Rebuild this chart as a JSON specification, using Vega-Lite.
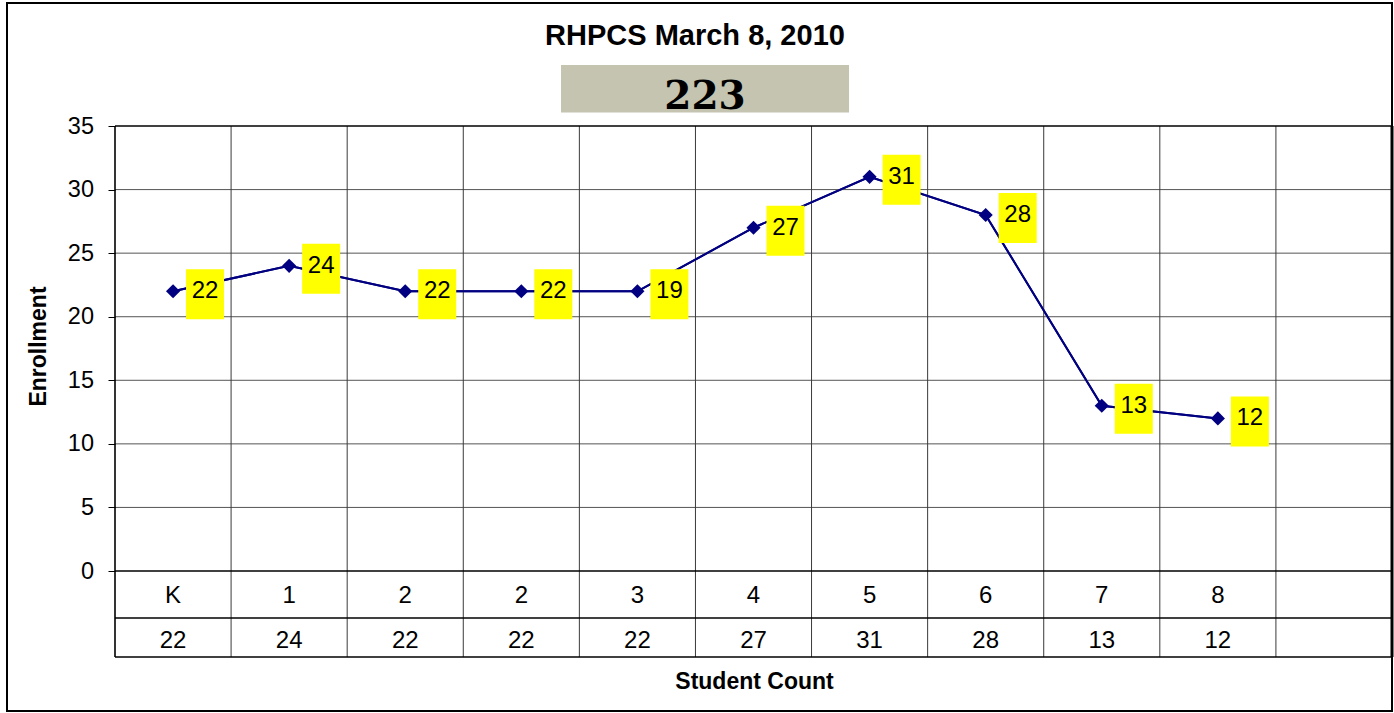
{
  "$schema": "https://vega.github.io/schema/vega-lite/v6.json",
  "width": 1385,
  "height": 708,
  "autosize": {"type": "none"},
  "padding": {"left": 7, "top": 3, "right": 2, "bottom": 2},
  "background": "#ffffff",
  "config": {
    "view": {"stroke": "#000000", "strokeWidth": 2},
    "font": "Liberation Sans",
    "text": {"font": "Liberation Sans"}
  },
  "datasets": {
    "grades": [
      {"col": 0, "grade": "K", "enrollment": 22, "label": "22", "count": 22},
      {"col": 1, "grade": "1", "enrollment": 24, "label": "24", "count": 24},
      {"col": 2, "grade": "2", "enrollment": 22, "label": "22", "count": 22},
      {"col": 3, "grade": "2", "enrollment": 22, "label": "22", "count": 22},
      {"col": 4, "grade": "3", "enrollment": 22, "label": "19", "count": 22},
      {"col": 5, "grade": "4", "enrollment": 27, "label": "27", "count": 27},
      {"col": 6, "grade": "5", "enrollment": 31, "label": "31", "count": 31},
      {"col": 7, "grade": "6", "enrollment": 28, "label": "28", "count": 28},
      {"col": 8, "grade": "7", "enrollment": 13, "label": "13", "count": 13},
      {"col": 9, "grade": "8", "enrollment": 12, "label": "12", "count": 12}
    ],
    "hgrid": [{"v": 5}, {"v": 10}, {"v": 15}, {"v": 20}, {"v": 25}, {"v": 30}],
    "vgrid": [{"c": 0.5}, {"c": 1.5}, {"c": 2.5}, {"c": 3.5}, {"c": 4.5}, {"c": 5.5}, {"c": 6.5}, {"c": 7.5}, {"c": 8.5}, {"c": 9.5}],
    "hborders": [{"v": 35}, {"v": 0}, {"v": -3.697}, {"v": -6.764}],
    "header": [{"title": "RHPCS March 8, 2010", "total": 223}]
  },
  "layer": [
    {
      "data": {"name": "grades"},
      "mark": {"type": "line", "stroke": "#000080", "strokeWidth": 2},
      "encoding": {
        "x": {
          "field": "col", "type": "quantitative",
          "scale": {"domain": [-1.4303, 10.5], "nice": false, "zero": false},
          "axis": {
            "title": "Student Count", "zindex": 2,
            "labels": false, "ticks": false, "domain": false, "grid": false,
            "titleX": 747, "titleY": -30, "titleAlign": "center", "titleBaseline": "middle",
            "titleFont": "Liberation Sans", "titleFontSize": 23, "titleFontWeight": "bold", "titleColor": "#000000"
          }
        },
        "y": {
          "field": "enrollment", "type": "quantitative",
          "scale": {"domain": [-11.011, 44.675], "nice": false, "zero": false},
          "axis": {
            "title": "Enrollment", "zindex": 2,
            "values": [0, 5, 10, 15, 20, 25, 30, 35],
            "offset": -108,
            "domain": false, "grid": false,
            "ticks": true, "tickSize": 7, "tickColor": "#000000", "tickWidth": 1,
            "labelFont": "Liberation Sans", "labelFontSize": 23.5, "labelColor": "#000000", "labelPadding": 14.5,
            "titleAngle": 270, "titleX": -77, "titleY": 343, "titleAlign": "center", "titleBaseline": "middle",
            "titleFont": "Liberation Sans", "titleFontSize": 23, "titleFontWeight": "bold", "titleColor": "#000000"
          }
        }
      }
    },
    {
      "data": {"name": "hgrid"},
      "mark": {"type": "rule", "stroke": "#555555", "strokeWidth": 1},
      "encoding": {
        "y": {"field": "v", "type": "quantitative", "scale": {"domain": [-11.011, 44.675], "nice": false, "zero": false}},
        "x": {"datum": -0.5, "type": "quantitative", "scale": {"domain": [-1.4303, 10.5], "nice": false, "zero": false}},
        "x2": {"datum": 10.5}
      }
    },
    {
      "data": {"name": "vgrid"},
      "mark": {"type": "rule", "stroke": "#3a3a3a", "strokeWidth": 1},
      "encoding": {
        "x": {"field": "c", "type": "quantitative", "scale": {"domain": [-1.4303, 10.5], "nice": false, "zero": false}},
        "y": {"datum": -6.764, "type": "quantitative", "scale": {"domain": [-11.011, 44.675], "nice": false, "zero": false}},
        "y2": {"datum": 35}
      }
    },
    {
      "data": {"name": "hborders"},
      "mark": {"type": "rule", "stroke": "#000000", "strokeWidth": 1.6},
      "encoding": {
        "y": {"field": "v", "type": "quantitative", "scale": {"domain": [-11.011, 44.675], "nice": false, "zero": false}},
        "x": {"datum": -0.5, "type": "quantitative", "scale": {"domain": [-1.4303, 10.5], "nice": false, "zero": false}},
        "x2": {"datum": 10.5}
      }
    },
    {
      "data": {"values": [{}]},
      "mark": {"type": "rule", "stroke": "#000000", "strokeWidth": 1.6},
      "encoding": {
        "x": {"datum": -0.5, "type": "quantitative", "scale": {"domain": [-1.4303, 10.5], "nice": false, "zero": false}},
        "y": {"datum": -6.764, "type": "quantitative", "scale": {"domain": [-11.011, 44.675], "nice": false, "zero": false}},
        "y2": {"datum": 35}
      }
    },
    {
      "data": {"values": [{}]},
      "mark": {"type": "rule", "stroke": "#000000", "strokeWidth": 3},
      "encoding": {
        "x": {"datum": 10.5, "type": "quantitative", "scale": {"domain": [-1.4303, 10.5], "nice": false, "zero": false}},
        "y": {"datum": -6.764, "type": "quantitative", "scale": {"domain": [-11.011, 44.675], "nice": false, "zero": false}},
        "y2": {"datum": 35}
      }
    },
    {
      "data": {"name": "grades"},
      "mark": {"type": "line", "stroke": "#000080", "strokeWidth": 2},
      "encoding": {
        "x": {"field": "col", "type": "quantitative", "scale": {"domain": [-1.4303, 10.5], "nice": false, "zero": false}},
        "y": {"field": "enrollment", "type": "quantitative", "scale": {"domain": [-11.011, 44.675], "nice": false, "zero": false}}
      }
    },
    {
      "data": {"name": "grades"},
      "mark": {"type": "point", "shape": "diamond", "filled": true, "size": 200, "color": "#000080", "opacity": 1},
      "encoding": {
        "x": {"field": "col", "type": "quantitative", "scale": {"domain": [-1.4303, 10.5], "nice": false, "zero": false}},
        "y": {"field": "enrollment", "type": "quantitative", "scale": {"domain": [-11.011, 44.675], "nice": false, "zero": false}}
      }
    },
    {
      "data": {"name": "grades"},
      "mark": {"type": "rect", "fill": "#FFFF00", "xOffset": 13, "x2Offset": 51, "yOffset": -22, "y2Offset": 28},
      "encoding": {
        "x": {"field": "col", "type": "quantitative", "scale": {"domain": [-1.4303, 10.5], "nice": false, "zero": false}},
        "x2": {"field": "col"},
        "y": {"field": "enrollment", "type": "quantitative", "scale": {"domain": [-11.011, 44.675], "nice": false, "zero": false}},
        "y2": {"field": "enrollment"}
      }
    },
    {
      "data": {"name": "grades"},
      "mark": {"type": "text", "align": "center", "baseline": "middle", "fontSize": 24, "color": "#000000", "xOffset": 32, "yOffset": 0},
      "encoding": {
        "x": {"field": "col", "type": "quantitative", "scale": {"domain": [-1.4303, 10.5], "nice": false, "zero": false}},
        "y": {"field": "enrollment", "type": "quantitative", "scale": {"domain": [-11.011, 44.675], "nice": false, "zero": false}},
        "text": {"field": "label"}
      }
    },
    {
      "data": {"name": "grades"},
      "mark": {"type": "text", "align": "center", "baseline": "middle", "fontSize": 24, "color": "#000000", "yOffset": 25},
      "encoding": {
        "x": {"field": "col", "type": "quantitative", "scale": {"domain": [-1.4303, 10.5], "nice": false, "zero": false}},
        "y": {"datum": 0, "type": "quantitative", "scale": {"domain": [-11.011, 44.675], "nice": false, "zero": false}},
        "text": {"field": "grade"}
      }
    },
    {
      "data": {"name": "grades"},
      "mark": {"type": "text", "align": "center", "baseline": "middle", "fontSize": 24, "color": "#000000", "yOffset": 70},
      "encoding": {
        "x": {"field": "col", "type": "quantitative", "scale": {"domain": [-1.4303, 10.5], "nice": false, "zero": false}},
        "y": {"datum": 0, "type": "quantitative", "scale": {"domain": [-11.011, 44.675], "nice": false, "zero": false}},
        "text": {"field": "count"}
      }
    },
    {
      "data": {"name": "header"},
      "mark": {"type": "rect", "fill": "#C4C4B0"},
      "encoding": {
        "x": {"datum": 3.342, "type": "quantitative", "scale": {"domain": [-1.4303, 10.5], "nice": false, "zero": false}},
        "x2": {"datum": 5.823},
        "y": {"datum": 39.8, "type": "quantitative", "scale": {"domain": [-11.011, 44.675], "nice": false, "zero": false}},
        "y2": {"datum": 36.06}
      }
    },
    {
      "data": {"name": "header"},
      "mark": {"type": "text", "align": "center", "baseline": "middle", "font": "DejaVu Serif", "fontWeight": "bold", "fontSize": 39, "color": "#000000"},
      "encoding": {
        "x": {"datum": 4.582, "type": "quantitative", "scale": {"domain": [-1.4303, 10.5], "nice": false, "zero": false}},
        "y": {"datum": 37.3, "type": "quantitative", "scale": {"domain": [-11.011, 44.675], "nice": false, "zero": false}},
        "text": {"field": "total"}
      }
    },
    {
      "data": {"name": "header"},
      "mark": {"type": "text", "align": "center", "baseline": "alphabetic", "font": "Liberation Sans", "fontWeight": "bold", "fontSize": 29, "color": "#000000"},
      "encoding": {
        "x": {"datum": 4.496, "type": "quantitative", "scale": {"domain": [-1.4303, 10.5], "nice": false, "zero": false}},
        "y": {"datum": 41.37, "type": "quantitative", "scale": {"domain": [-11.011, 44.675], "nice": false, "zero": false}},
        "text": {"field": "title"}
      }
    }
  ]
}
